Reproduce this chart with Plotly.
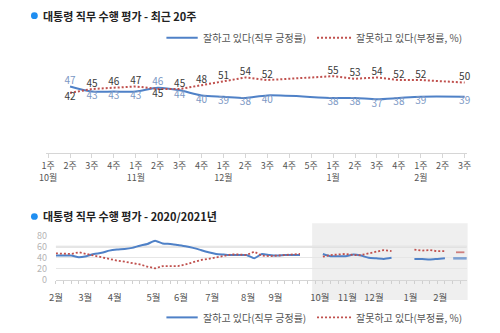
import plotly.graph_objects as go

# ---------------- data ----------------
# Top chart: recent 20 weeks (category axis)
weeks_top = ["10월 1주", "10월 2주", "10월 3주", "10월 4주",
             "11월 1주", "11월 2주", "11월 3주", "11월 4주",
             "12월 1주", "12월 2주", "12월 3주", "12월 4주", "12월 5주",
             "1월 1주", "1월 2주", "1월 3주", "1월 4주",
             "2월 1주", "2월 2주", "2월 3주"]
week_tick_labels = ["1주<br>10월", "2주", "3주", "4주",
                    "1주<br>11월", "2주", "3주", "4주",
                    "1주<br>12월", "2주", "3주", "4주", "5주",
                    "1주<br>1월", "2주", "3주", "4주",
                    "1주<br>2월", "2주", "3주"]
survey_weeks = ["10월 2주", "10월 3주", "10월 4주",
                "11월 1주", "11월 2주", "11월 3주", "11월 4주",
                "12월 1주", "12월 2주", "12월 3주",
                "1월 1주", "1월 2주", "1월 3주", "1월 4주",
                "2월 1주", "2월 3주"]
approve = [47, 43, 43, 43, 46, 44, 40, 39, 38, 40, 38, 38, 37, 38, 39, 39]
disapprove = [42, 45, 46, 47, 45, 45, 48, 51, 54, 52, 55, 53, 54, 52, 52, 50]

# Bottom chart: weekly 2020/2021 (Feb 2020 .. Sep 2020)
approve_2020 = [44, 44, 44, 41, 43, 47, 49, 53, 55, 56, 58, 62, 65, 71, 66, 65,
                63, 61, 58, 54, 50, 47, 46, 45, 45, 45, 39, 47, 45, 44, 45, 45, 45]
disapprove_2020 = [48, 48, 47, 50, 47, 43, 40, 38, 35, 33, 31, 28, 24, 21, 25, 25,
                   25, 28, 32, 36, 38, 41, 44, 46, 46, 45, 51, 44, 43, 44, 44, 45, 47]
month_labels = ["2월", "3월", "4월", "5월", "6월", "7월", "8월", "9월",
                "10월", "11월", "12월", "1월", "2월"]
month_tick_pos = [0, 3.85, 7.7, 12.8, 16.4, 20.5, 25.2, 28.8, 34.6, 38.2, 41.7, 46.5, 50.4]
y_ticks_bottom = [0, 20, 40, 60, 80]

legend_pos = "잘하고 있다(직무 긍정률)"
legend_neg = "잘못하고 있다(부정률, %)"
title_top = "대통령 직무 수행 평가 - 최근 20주"
title_bottom = "대통령 직무 수행 평가 - 2020/2021년"

# ---------------- styles ----------------
FONT = "Noto Sans CJK KR"
BLUE = "#4f81c7"
RED = "#c0504d"
BLUE_TXT = "#7b97c4"
DARK_TXT = "#3a3a3a"
W, H = 500, 333


def px(x):
    return x / W


def py(y):
    return 1 - y / H


# weekly series for bottom chart (gaps = weeks with no survey)
weekly_approve = approve_2020 + [None, None] + approve[0:10] + [None, None] + approve[10:15] + [None] + approve[15:]
weekly_disapprove = disapprove_2020 + [None, None] + disapprove[0:10] + [None, None] + disapprove[10:15] + [None] + disapprove[15:]
week_index = list(range(len(weekly_approve)))


def isolated_sizes(vals, size):
    out = []
    for i, v in enumerate(vals):
        prev_none = i == 0 or vals[i - 1] is None
        next_none = i == len(vals) - 1 or vals[i + 1] is None
        out.append(size if (v is not None and prev_none and next_none) else 0)
    return out


pos_text_pos = ["top center" if a > d else "bottom center" for a, d in zip(approve, disapprove)]
neg_text_pos = ["top center" if d > a else "bottom center" for a, d in zip(approve, disapprove)]

fig = go.Figure()

# top chart traces
fig.add_trace(go.Scatter(
    x=survey_weeks, y=approve, mode="lines+text", name=legend_pos,
    line=dict(color=BLUE, width=2, shape="spline", smoothing=0.8),
    text=[str(v) for v in approve], textposition=pos_text_pos,
    textfont=dict(family=FONT, size=10, color=BLUE_TXT),
    cliponaxis=False, xaxis="x", yaxis="y", showlegend=False))
fig.add_trace(go.Scatter(
    x=survey_weeks, y=disapprove, mode="lines+text", name=legend_neg,
    line=dict(color=RED, width=2, dash="2px,2px"),
    text=[str(v) for v in disapprove], textposition=neg_text_pos,
    textfont=dict(family=FONT, size=10, color=DARK_TXT),
    cliponaxis=False, xaxis="x", yaxis="y", showlegend=False))

# bottom chart traces
fig.add_trace(go.Scatter(
    x=week_index, y=weekly_approve, mode="lines+markers", name=legend_pos,
    line=dict(color=BLUE, width=2, shape="spline", smoothing=0.5),
    marker=dict(symbol="line-ew", size=isolated_sizes(weekly_approve, 10),
                line=dict(color=BLUE, width=2.5)),
    connectgaps=False, xaxis="x2", yaxis="y2", showlegend=False))
fig.add_trace(go.Scatter(
    x=week_index, y=weekly_disapprove, mode="lines+markers", name=legend_neg,
    line=dict(color=RED, width=1.8, dash="2px,2px"),
    marker=dict(symbol="line-ew", size=isolated_sizes(weekly_disapprove, 6),
                line=dict(color=RED, width=1.8)),
    connectgaps=False, xaxis="x2", yaxis="y2", showlegend=False))

shapes = []
annotations = []

# shaded recent-period region in bottom chart
shapes.append(dict(type="rect", xref="paper", yref="paper",
                   x0=px(312), x1=px(471), y0=py(305), y1=py(225),
                   fillcolor="#efefef", line=dict(width=0), layer="below"))
# thicker 60 gridline
shapes.append(dict(type="line", xref="paper", yref="y2", x0=px(50), x1=px(470),
                   y0=60, y1=60, line=dict(color="#dcdcdc", width=2.2), layer="below"))

# titles with blue bullets
for ty, txt in [(9, title_top), (218, title_bottom)]:
    shapes.append(dict(type="circle", xref="paper", yref="paper",
                       x0=px(24.5), x1=px(31.5), y0=py(ty + 3.5), y1=py(ty - 3.5),
                       fillcolor="#1f8ef1", line=dict(width=0)))
    annotations.append(dict(text="<b>" + txt + "</b>", x=px(35), y=py(ty),
                            xref="paper", yref="paper", xanchor="left", yanchor="middle",
                            showarrow=False, font=dict(family=FONT, size=11, color="#222")))

# manual legends
for ly in [32, 323]:
    shapes.append(dict(type="line", xref="paper", yref="paper",
                       x0=px(163), x1=px(195), y0=py(ly), y1=py(ly),
                       line=dict(color=BLUE, width=2)))
    shapes.append(dict(type="line", xref="paper", yref="paper",
                       x0=px(317), x1=px(352), y0=py(ly), y1=py(ly),
                       line=dict(color=RED, width=1.8, dash="2px,2px")))
    annotations.append(dict(text=legend_pos, x=px(198), y=py(ly), xref="paper", yref="paper",
                            xanchor="left", yanchor="middle", showarrow=False,
                            font=dict(family=FONT, size=10, color="#555")))
    annotations.append(dict(text=legend_neg, x=px(355), y=py(ly), xref="paper", yref="paper",
                            xanchor="left", yanchor="middle", showarrow=False,
                            font=dict(family=FONT, size=10, color="#555")))

fig.update_layout(
    width=W, height=H,
    margin=dict(l=0, r=0, t=0, b=0),
    paper_bgcolor="white", plot_bgcolor="rgba(0,0,0,0)",
    font=dict(family=FONT, color="#555"),
    shapes=shapes, annotations=annotations,
    xaxis=dict(domain=[px(39.8), px(470.2)], type="category",
               categoryorder="array", categoryarray=weeks_top,
               tickmode="array", tickvals=weeks_top, ticktext=week_tick_labels,
               range=[-0.1, len(weeks_top) - 0.9],
               showline=True, linecolor="#d6d6d6", linewidth=1,
               ticks="outside", ticklen=4, tickcolor="#d6d6d6",
               tickfont=dict(family=FONT, size=9, color="#555"),
               showgrid=False, zeroline=False, fixedrange=True),
    yaxis=dict(domain=[py(152), py(12)], range=[-5, 100], visible=False,
               showgrid=False, zeroline=False),
    xaxis2=dict(domain=[px(50), px(470)], anchor="y2", range=[0, 53.85],
                tickmode="array", tickvals=month_tick_pos, ticktext=month_labels,
                ticks="", showline=True, linecolor="#d6d6d6",
                minor=dict(tickmode="linear", tick0=0, dtick=1, ticks="outside",
                           ticklen=3, tickcolor="#cfcfcf", showgrid=False),
                tickfont=dict(family=FONT, size=9.5, color="#555"),
                ticklabelstandoff=9,
                showgrid=False, zeroline=False),
    yaxis2=dict(domain=[py(284), py(238)], anchor="x2", range=[0, 80],
                tickmode="array", tickvals=y_ticks_bottom,
                tickfont=dict(family=FONT, size=9, color="#b5b5b5"),
                gridcolor="#e6e6e6", gridwidth=1, showline=False, zeroline=False,
                ticklabelstandoff=8),
)

fig.write_html("out.html")
